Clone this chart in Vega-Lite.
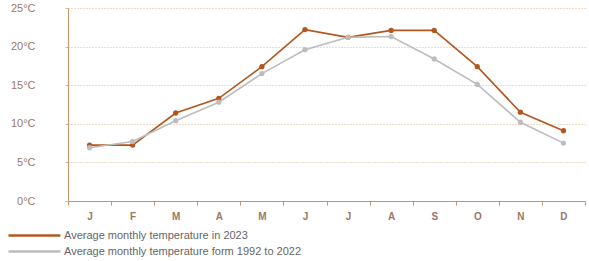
{
  "$schema": "https://vega.github.io/schema/vega-lite/v6.json",
  "width": 517,
  "height": 193,
  "autosize": {"type": "none"},
  "padding": {"left": 68, "top": 8, "right": 4, "bottom": 60},
  "background": "white",
  "config": {
    "view": {"stroke": null},
    "font": "Liberation Sans Narrow, Liberation Sans, Arial"
  },
  "data": {
    "values": [
      {"month": "Jan", "series": "Average monthly temperature in 2023", "temp": 7.24},
      {"month": "Feb", "series": "Average monthly temperature in 2023", "temp": 7.24},
      {"month": "Mar", "series": "Average monthly temperature in 2023", "temp": 11.4},
      {"month": "Apr", "series": "Average monthly temperature in 2023", "temp": 13.3},
      {"month": "May", "series": "Average monthly temperature in 2023", "temp": 17.4},
      {"month": "Jun", "series": "Average monthly temperature in 2023", "temp": 22.2},
      {"month": "Jul", "series": "Average monthly temperature in 2023", "temp": 21.2},
      {"month": "Aug", "series": "Average monthly temperature in 2023", "temp": 22.1},
      {"month": "Sep", "series": "Average monthly temperature in 2023", "temp": 22.1},
      {"month": "Oct", "series": "Average monthly temperature in 2023", "temp": 17.4},
      {"month": "Nov", "series": "Average monthly temperature in 2023", "temp": 11.5},
      {"month": "Dec", "series": "Average monthly temperature in 2023", "temp": 9.1},
      {"month": "Jan", "series": "Average monthly temperature form 1992 to 2022", "temp": 6.9},
      {"month": "Feb", "series": "Average monthly temperature form 1992 to 2022", "temp": 7.7},
      {"month": "Mar", "series": "Average monthly temperature form 1992 to 2022", "temp": 10.4},
      {"month": "Apr", "series": "Average monthly temperature form 1992 to 2022", "temp": 12.8},
      {"month": "May", "series": "Average monthly temperature form 1992 to 2022", "temp": 16.5},
      {"month": "Jun", "series": "Average monthly temperature form 1992 to 2022", "temp": 19.6},
      {"month": "Jul", "series": "Average monthly temperature form 1992 to 2022", "temp": 21.2},
      {"month": "Aug", "series": "Average monthly temperature form 1992 to 2022", "temp": 21.3},
      {"month": "Sep", "series": "Average monthly temperature form 1992 to 2022", "temp": 18.4},
      {"month": "Oct", "series": "Average monthly temperature form 1992 to 2022", "temp": 15.1},
      {"month": "Nov", "series": "Average monthly temperature form 1992 to 2022", "temp": 10.2},
      {"month": "Dec", "series": "Average monthly temperature form 1992 to 2022", "temp": 7.5}
    ]
  },
  "mark": {"type": "line", "strokeWidth": 1.6, "point": {"filled": true, "size": 28, "opacity": 1}},
  "encoding": {
    "x": {
      "field": "month",
      "type": "ordinal",
      "sort": ["Jan","Feb","Mar","Apr","May","Jun","Jul","Aug","Sep","Oct","Nov","Dec"],
      "scale": {"paddingInner": 0, "paddingOuter": 0},
      "axis": {
        "title": null,
        "labelAngle": 0,
        "labelExpr": "substring(datum.label, 0, 1)",
        "tickBand": "extent",
        "tickSize": 4,
        "tickColor": "#c8946c",
        "domainColor": "#c8946c",
        "labelColor": "#9a7866",
        "labelFontSize": 10,
        "labelFontWeight": "bold",
        "labelPadding": 6,
        "grid": false
      }
    },
    "y": {
      "field": "temp",
      "type": "quantitative",
      "scale": {"domain": [0, 25]},
      "axis": {
        "title": null,
        "values": [0, 5, 10, 15, 20, 25],
        "labelExpr": "datum.value + '°C'",
        "tickSize": 3,
        "tickColor": "#e2b48c",
        "labelPadding": 30,
        "labelColor": "#9a7866",
        "labelFontSize": 11,
        "domainColor": "#c8946c",
        "gridColor": "#e2b48c",
        "gridDash": [1, 2],
        "gridWidth": 1
      }
    },
    "color": {
      "field": "series",
      "type": "nominal",
      "scale": {
        "domain": ["Average monthly temperature in 2023", "Average monthly temperature form 1992 to 2022"],
        "range": ["#b4571f", "#bdbdbd"]
      },
      "legend": {
        "title": null,
        "orient": "none",
        "legendX": -66,
        "legendY": 221,
        "direction": "vertical",
        "symbolType": "M0,0H10",
        "symbolSize": 108,
        "symbolStrokeWidth": 2.5,
        "labelFontSize": 11,
        "labelColor": "#666666",
        "labelOffset": 49,
        "labelLimit": 500,
        "rowPadding": 4
      }
    }
  }
}
